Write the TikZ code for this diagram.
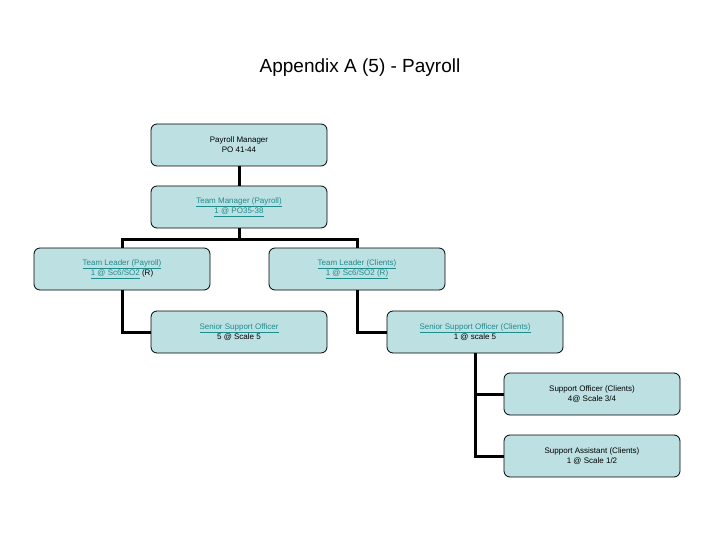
\documentclass[tikz,border=0pt]{standalone}
\usepackage{fontspec}
\setmainfont{Liberation Sans}
\definecolor{boxfill}{HTML}{BDE0E3}
\definecolor{lnk}{HTML}{1E8C8C}
\newcommand{\lk}[1]{\textcolor{lnk}{\underline{#1}}}
\begin{document}
\begin{tikzpicture}[x=1pt,y=-1pt,
  box/.style={draw=black,line width=0.8pt,fill=boxfill,rounded corners=6pt,minimum width=176pt,minimum height=42pt,align=center,font=\fontsize{8}{10}\selectfont,inner sep=1pt},
  conn/.style={line width=3pt}]
\useasboundingbox (0,0) rectangle (720,540);
\node[font=\fontsize{19}{22}\selectfont] (title) at (360,68) {Appendix A (5) - Payroll};
\node[box] (pm) at (239,145) {Payroll Manager\\PO 41-44};
\node[box] (tm) at (239,207) {\lk{Team Manager (Payroll)}\\\lk{1 @ PO35-38}};
\node[box] (tlp) at (122,269) {\lk{Team Leader (Payroll)}\\\lk{1 @ Sc6/SO2} (R)};
\node[box] (tlc) at (357,269) {\lk{Team Leader (Clients)}\\\lk{1 @ Sc6/SO2 (R)}};
\node[box] (sso) at (239,332) {\lk{Senior Support Officer}\\5 @ Scale 5};
\node[box] (ssoc) at (475,332) {\lk{Senior Support Officer (Clients)}\\1 @ scale 5};
\node[box] (so) at (592,394) {Support Officer (Clients)\\4@ Scale 3/4};
\node[box] (sa) at (592,456) {Support Assistant (Clients)\\1 @ Scale 1/2};
\coordinate (j) at (239,239);
\draw[conn] (pm.south) -- (tm.north);
\draw[conn] (tm.south) -- (j);
\draw[conn] (tlp.north) |- (j) -| (tlc.north);
\draw[conn] (tlp.south) |- (sso.west);
\draw[conn] (tlc.south) |- (ssoc.west);
\draw[conn] (ssoc.south) |- (so.west);
\draw[conn] (ssoc.south) |- (sa.west);
\end{tikzpicture}
\end{document}
